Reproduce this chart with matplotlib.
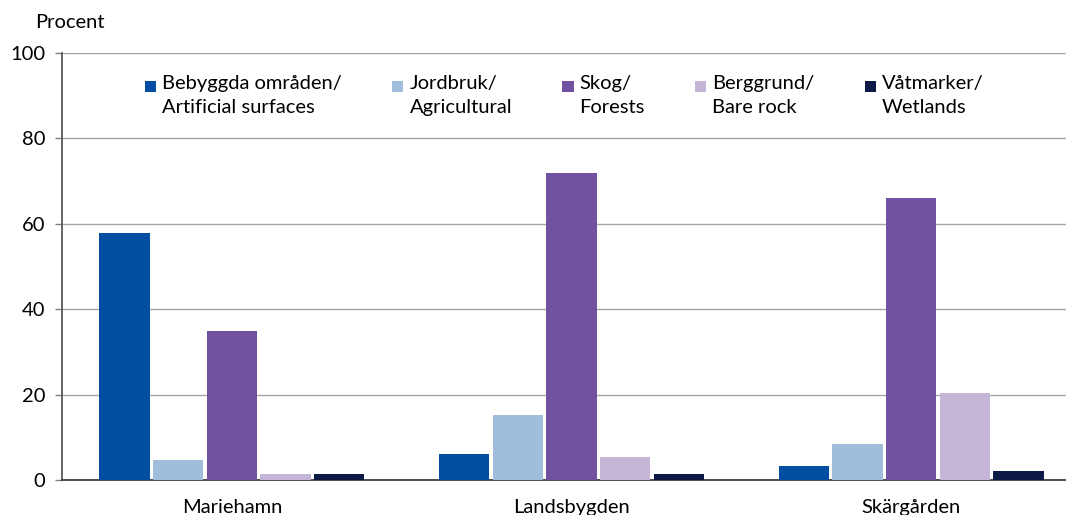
import numpy as np
import matplotlib.pyplot as plt
from matplotlib.patches import Rectangle
from matplotlib.container import BarContainer
from matplotlib.legend_handler import HandlerPatch, update_from_first_child

plt.rcParams['font.family'] = ['Lato', 'DejaVu Sans']

# --- data ---
regions = ["Mariehamn", "Landsbygden", "Skärgården"]
labels = [
    "Bebyggda områden/\nArtificial surfaces",
    "Jordbruk/\nAgricultural",
    "Skog/\nForests",
    "Berggrund/\nBare rock",
    "Våtmarker/\nWetlands",
]
bebyggda = [57.8, 6.2, 3.3]
jordbruk = [4.7, 15.2, 8.4]
skog = [34.9, 72.0, 66.0]
berggrund = [1.4, 5.4, 20.3]
vatmarker = [1.3, 1.5, 2.1]
series = [bebyggda, jordbruk, skog, berggrund, vatmarker]
colors = ["#034ea2", "#a0bedc", "#7052a0", "#c5b5d7", "#0c1a45"]

FS = 14.5
W, H = 1066, 515
fig = plt.figure(figsize=(W / 100, H / 100), dpi=100)
ax = fig.add_axes([62 / W, 1 - 480 / H, (1081 - 62) / W, (480 - 53) / H])

x = np.arange(len(regions))
step = 0.158
width = 0.148
for i, (vals, c, lab) in enumerate(zip(series, colors, labels)):
    ax.bar(x + (i - 2) * step, vals, width, color=c, label=lab, zorder=3)

ax.set_xlim(-0.5, 2.5)
ax.set_ylim(0, 100)
ax.set_yticks([0, 20, 40, 60, 80, 100])
ax.set_xticks(x)
ax.set_xticklabels(regions)
ax.grid(axis="y", color="#a6a6a6", lw=1, zorder=0)
for s in ["top", "right"]:
    ax.spines[s].set_visible(False)
ax.spines["left"].set_color("#595959")
ax.spines["bottom"].set_color("#404040")
ax.spines["left"].set_linewidth(1.3)
ax.spines["bottom"].set_linewidth(1.3)
ax.tick_params(axis="y", length=5, width=1, color="#808080", pad=7, labelsize=FS)
ax.tick_params(axis="x", length=0, pad=14, labelsize=FS)

fig.text(35 / W, 1 - 22 / H, "Procent", fontsize=FS, va="center", ha="left")


# square marker sitting on the first text line
def top_square(legend, orig_handle, xdescent, ydescent, width, height, fontsize):
    side = width
    return Rectangle((-xdescent, -ydescent + height - side), side, side)


leg = ax.legend(loc="upper left", bbox_to_anchor=(145 / W, 1 - 75 / H),
                bbox_transform=fig.transFigure, ncol=5, frameon=False,
                fontsize=FS, handlelength=0.55, handleheight=1.9,
                handletextpad=0.3, columnspacing=2.5, borderaxespad=0,
                borderpad=0,
                handler_map={BarContainer: HandlerPatch(
                    patch_func=top_square, update_func=update_from_first_child)})
for t in leg.get_texts():
    t.set_linespacing(1.5)

fig.savefig("out.png", dpi=100)
